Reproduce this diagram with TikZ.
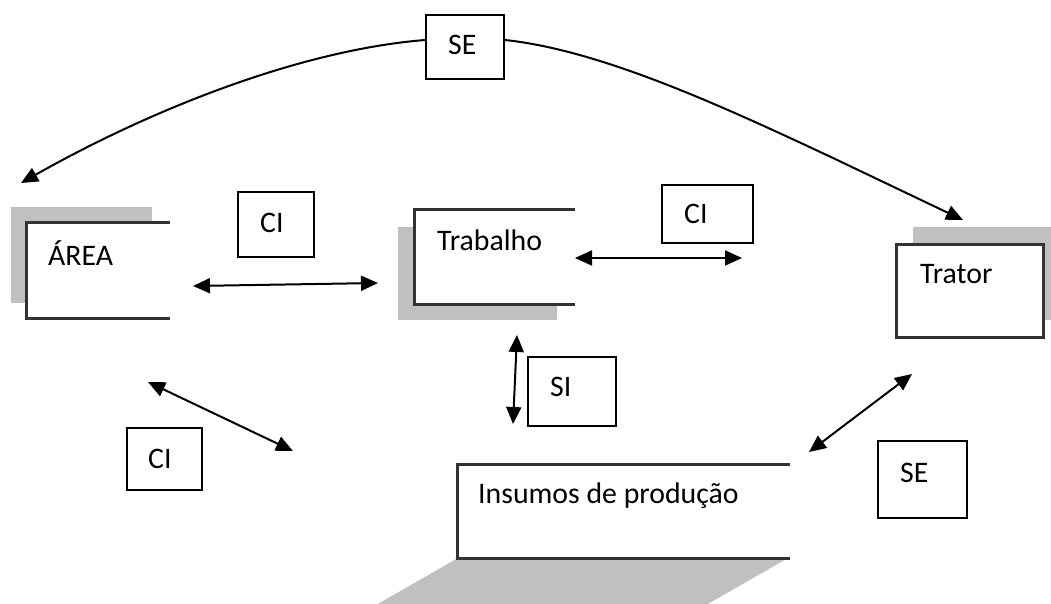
\documentclass[tikz,border=0pt]{standalone}
\usepackage{fontspec}
\setmainfont{Carlito}
\usetikzlibrary{arrows.meta}
\definecolor{shade}{RGB}{192,192,192}
\begin{document}
\begin{tikzpicture}[x=1pt,y=-1pt,
  font=\fontsize{29.8}{35}\selectfont,
  shadowfill/.style={fill=shade, draw=none},
  mainbox/.style={fill=white, draw=none, inner sep=0},
  frame/.style={draw=black!80, line width=3pt, line cap=rect},
  lbl/.style={draw=black, line width=1.7pt, fill=white, inner sep=0},
  txt/.style={anchor=base west, inner sep=0},
  both/.style={line width=2pt, {Triangle[length=17pt,width=15pt]}-{Triangle[length=17pt,width=15pt]}},
  oneway/.style={line width=2pt, -{Triangle[length=17pt,width=15pt]}}]
\useasboundingbox (0,0) rectangle (1051,604);
\clip (0,0) rectangle (1051,604);
% shadows
\fill[shadowfill] (11,207) rectangle (152,303);
\fill[shadowfill] (398,227) rectangle (557,320);
\fill[shadowfill] (913,227) rectangle (1060,320);
\fill[shadowfill] (458,558) -- (788,558) -- (706,605) -- (376,605) -- cycle;
% main boxes
\node[mainbox, minimum width=141, minimum height=95] (area) at (97.5,270.5) {};
\draw[frame] (area.north east) -- (area.north west) -- (area.south west) -- (area.south east);
\node[txt] (areat) at (48,265) {ÁREA};
\node[mainbox, minimum width=158, minimum height=94] (trab) at (494,257) {};
\draw[frame] (trab.north east) -- (trab.north west) -- (trab.south west) -- (trab.south east);
\node[txt] (trabt) at (437,250) {Trabalho};
\node[mainbox, minimum width=146, minimum height=92] (trator) at (970,291) {};
\draw[frame] (trator.north east) -- (trator.north west) -- (trator.south west) -- (trator.south east) -- cycle;
\node[txt] (tratort) at (920,283) {Trator};
\node[mainbox, minimum width=330, minimum height=93] (ins) at (623,511.5) {};
\draw[frame] (ins.north east) -- (ins.north west) -- (ins.south west) -- (ins.south east);
\node[txt] (inst) at (478,503) {Insumos de produção};
% label boxes
\node[lbl, minimum width=78, minimum height=64] (se1) at (465,47) {};
\node[txt] (se1t) at (448,55) {SE};
\node[lbl, minimum width=76, minimum height=65] (ci1) at (276,224.5) {};
\node[txt] (ci1t) at (260,232) {CI};
\node[lbl, minimum width=91, minimum height=58] (ci2) at (707.5,214) {};
\node[txt] (ci2t) at (684,223) {CI};
\node[lbl, minimum width=88, minimum height=69] (si) at (572,391.5) {};
\node[txt] (sit) at (550,396) {SI};
\node[lbl, minimum width=75, minimum height=62] (ci3) at (164.5,459) {};
\node[txt] (ci3t) at (148,468) {CI};
\node[lbl, minimum width=89, minimum height=77] (se2) at (922.5,479.5) {};
\node[txt] (se2t) at (900,482) {SE};
% connector end points
\coordinate (a1) at (193,286); \coordinate (a2) at (378,283);
\coordinate (b1) at (575,258); \coordinate (b2) at (742,258);
\coordinate (c1) at (517,335); \coordinate (c2) at (513,424);
\coordinate (d1) at (148,382); \coordinate (d2) at (293,451);
\coordinate (e1) at (809,452); \coordinate (e2) at (912,374);
\coordinate (f1) at (21,183);
\coordinate (bend) at (833,158);
\coordinate (g1) at (963,220);
% connectors
\draw[both] (a1) -- (a2);
\draw[both] (b1) -- (b2);
\draw[both] (c1) -- (c2);
\draw[both] (d1) -- (d2);
\draw[both] (e1) -- (e2);
\draw[oneway] ([yshift=7pt]se1.west) .. controls (300,50) and (150,110) .. (f1);
\draw[oneway] ([yshift=7pt]se1.east) .. controls (600,50) and (720,105) .. (bend) -- (g1);
\end{tikzpicture}
\end{document}
